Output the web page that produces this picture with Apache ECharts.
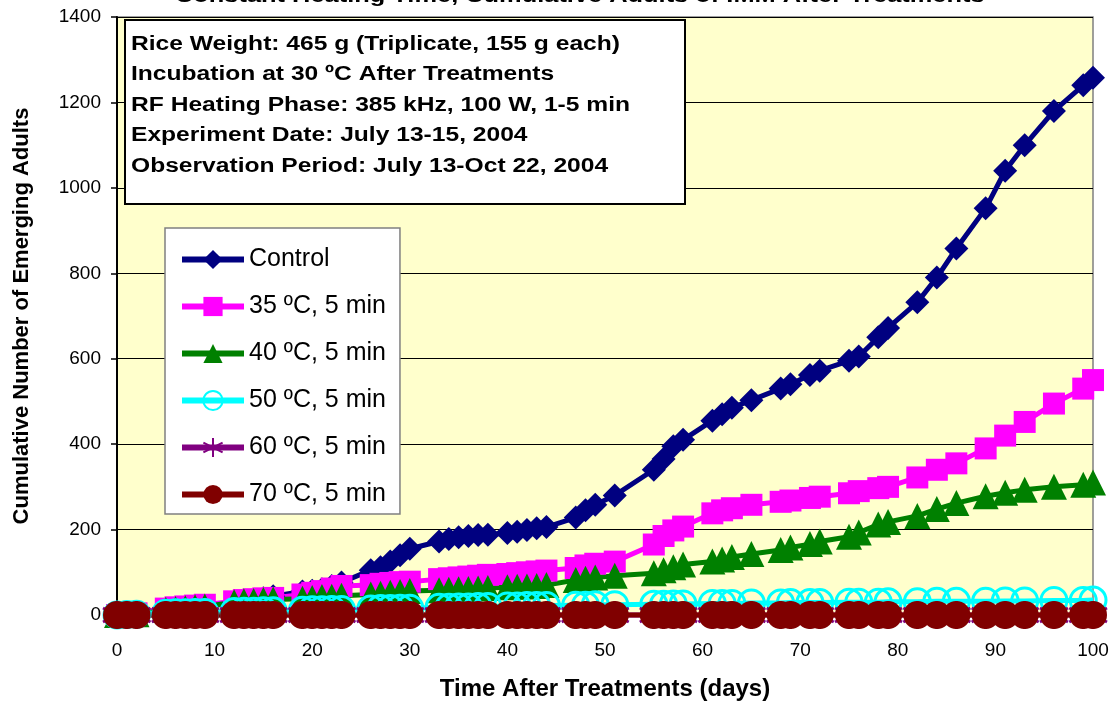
<!DOCTYPE html>
<html>
<head>
<meta charset="utf-8">
<script src="https://cdn.jsdelivr.net/npm/echarts@6/dist/echarts.min.js"></script>
<style>
  html, body { margin: 0; padding: 0; background: #ffffff; }
  #chart { width: 1118px; height: 706px; }
</style>
</head>
<body>
<div id="chart"></div>
<script>
// ---- data ----
const days = [0,1,2, 5,6,7,8,9, 12,13,14,15,16, 19,20,21,22,23, 26,27,28,29,30, 33,34,35,36,37,38, 40,41,42,43,44, 47,48,49,51, 55,56,57,58, 61,62,63,65, 68,69,71,72, 75,76,78,79, 82,84,86, 89,91,93, 96,99,100];

const control = [0,2,4, 10,12,15,18,20, 28,31,35,39,44, 55,57,60,68,76, 105,112,125,140,155, 172,178,182,185,187,188, 192,195,199,203,206, 228,245,258,280, 340,365,395,410, 455,470,485,503, 530,540,562,572, 595,605,650,672, 732,790,858, 952,1040,1100, 1180,1240,1258];
const c35 = [0,2,4, 15,18,20,22,24, 32,35,37,39,40, 48,52,56,62,68, 70,73,75,77,78, 84,86,88,90,92,94, 96,98,100,102,104, 110,116,120,125, 165,185,198,207, 238,245,250,258, 265,268,274,277, 285,290,297,300, 322,340,355, 390,420,452, 495,530,550];
const c40 = [0,1,2, 12,14,16,18,20, 30,32,33,35,36, 38,40,42,43,45, 48,50,52,54,56, 58,59,60,61,62,63, 65,66,67,68,70, 82,85,88,92, 98,105,112,118, 125,130,136,143, 152,158,166,172, 183,193,212,218, 232,248,262, 278,286,293, 300,305,310];
const c50 = [0,1,2, 4,5,5,6,6, 8,9,9,10,10, 11,12,12,13,13, 14,15,15,16,16, 18,18,19,19,20,20, 21,21,22,22,22, 23,23,24,24, 25,25,26,26, 27,27,27,28, 28,29,29,29, 30,30,30,31, 31,32,32, 32,33,33, 34,34,35];
const c60 = [0,0,0, 0,0,0,0,0, 0,0,0,0,0, 0,0,0,0,0, 0,0,0,0,0, 0,0,0,0,0,0, 0,0,0,0,0, 0,0,0,0, 0,0,0,0, 0,0,0,0, 0,0,0,0, 0,0,0,0, 0,0,0, 0,0,0, 0,0,0];
const c70 = [0,0,0, 0,0,0,0,0, 0,0,0,0,0, 0,0,0,0,0, 0,0,0,0,0, 0,0,0,0,0,0, 0,0,0,0,0, 0,0,0,0, 0,0,0,0, 0,0,0,0, 0,0,0,0, 0,0,0,0, 0,0,0, 0,0,0, 0,0,0];

const seriesNames = ['Control', '35 ºC, 5 min', '40 ºC, 5 min', '50 ºC, 5 min', '60 ºC, 5 min', '70 ºC, 5 min'];
const titleText = 'Constant Heating Time, Cumulative Adults of IMM After Treatments';
const infoLines = [
  'Rice Weight: 465 g (Triplicate, 155 g each)',
  'Incubation at 30 ºC After Treatments',
  'RF Heating Phase: 385 kHz, 100 W, 1-5 min',
  'Experiment Date: July 13-15, 2004',
  'Observation Period: July 13-Oct 22, 2004'
];
const xAxisName = 'Time After Treatments (days)';
const yAxisName = 'Cumulative Number of Emerging Adults';

// ---- chart ----
const FONT = '"Liberation Sans", Arial, Helvetica, sans-serif';
const pts = arr => days.map((d, i) => [d, arr[i]]);

function mk(name, arr, color, symbol, size, extraItem) {
  return {
    name: name, type: 'line', data: pts(arr), clip: false,
    symbol: symbol, symbolSize: size, showSymbol: true,
    lineStyle: { color: color, width: 5 },
    itemStyle: Object.assign({ color: color }, extraItem || {}),
    emphasis: { disabled: true }
  };
}

const starPath = 'path://M0,-10L0,10M-8.66,-5L8.66,5M-8.66,5L8.66,-5';

const option = {
  animation: false,
  textStyle: { fontFamily: FONT },
  grid: {
    left: 117, right: 25, top: 17, bottom: 91,
    show: true, backgroundColor: '#FFFFCC', borderColor: '#808080', borderWidth: 1.5
  },
  xAxis: {
    type: 'value', min: 0, max: 100, interval: 10,
    name: xAxisName, nameLocation: 'middle', nameGap: 62,
    nameTextStyle: { fontSize: 24, fontWeight: 'bold', color: '#000', fontFamily: FONT },
    axisLine: { onZero: false, lineStyle: { color: '#000', width: 2 } },
    axisTick: { show: true, length: 6, lineStyle: { color: '#000', width: 1.5 } },
    axisLabel: { fontSize: 19, color: '#000', margin: 26, fontFamily: FONT },
    splitLine: { show: false }
  },
  yAxis: {
    type: 'value', min: 0, max: 1400, interval: 200,
    name: yAxisName, nameLocation: 'middle', nameGap: 84,
    nameTextStyle: { fontSize: 22, fontWeight: 'bold', color: '#000', fontFamily: FONT },
    axisLine: { show: true, lineStyle: { color: '#000', width: 2 } },
    axisTick: { show: true, length: 6, lineStyle: { color: '#000', width: 1.5 } },
    axisLabel: { fontSize: 19, color: '#000', margin: 16, fontFamily: FONT,
                 formatter: v => String(v) },
    splitLine: { show: true, lineStyle: { color: '#000', width: 1 } }
  },
  legend: {
    orient: 'vertical', left: 165, top: 228,
    itemWidth: 62, itemHeight: 24, itemGap: 22,
    padding: [19, 14, 7, 14],
    backgroundColor: '#ffffff', borderColor: '#808080', borderWidth: 1.5,
    lineStyle: { width: 6 },
    textStyle: { fontSize: 25, color: '#000', fontFamily: FONT },
    data: seriesNames
  },
  graphic: [
    { type: 'text', left: 175, top: -14, z: 100, scaleX: 1.27,
      style: { text: titleText, font: 'bold 20px ' + FONT, fill: '#000' } },
    { type: 'rect', left: 124, top: 19, z: 100,
      shape: { width: 560, height: 184 },
      style: { fill: '#ffffff', stroke: '#000', lineWidth: 2 } },
    { type: 'text', left: 131, top: 29, z: 101, scaleX: 1.23,
      style: { text: infoLines.join('\n'), font: 'bold 20px ' + FONT, lineHeight: 30.5, fill: '#000' } }
  ],
  series: [
    mk(seriesNames[0], control, '#000080', 'diamond', 24),
    mk(seriesNames[1], c35, '#FF00FF', 'rect', 22),
    mk(seriesNames[2], c40, '#008000', 'triangle', 26),
    mk(seriesNames[3], c50, '#00FFFF', 'circle', 26, { color: 'rgba(0,0,0,0)', borderColor: '#00FFFF', borderWidth: 3 }),
    mk(seriesNames[4], c60, '#800080', starPath, 28, { color: 'rgba(0,0,0,0)', borderColor: '#800080', borderWidth: 3 }),
    mk(seriesNames[5], c70, '#800000', 'circle', 28)
  ]
};

const chart = echarts.init(document.getElementById('chart'), null, { renderer: 'canvas' });
chart.setOption(option);
</script>
</body>
</html>
